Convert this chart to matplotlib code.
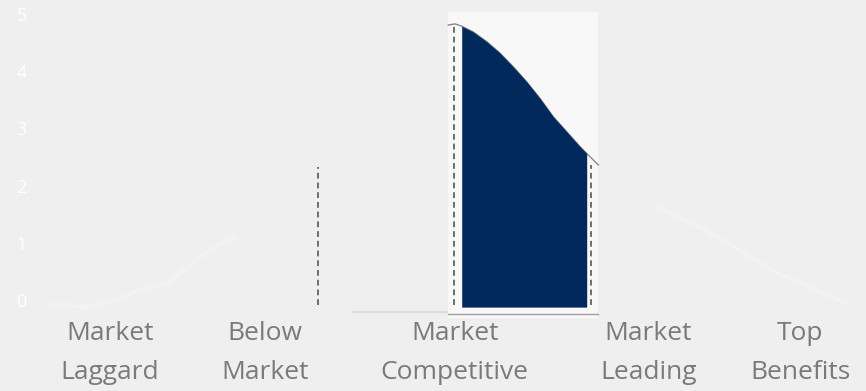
import matplotlib
matplotlib.use("Agg")
import matplotlib.pyplot as plt
import matplotlib.transforms as mtransforms

# ---- data ----
categories = ["Market\nLaggard", "Below\nMarket", "Market\nCompetitive", "Market\nLeading", "Top\nBenefits"]
category_pos = [9.0, 27.7, 50.5, 73.8, 92.1]
y_ticks = [0, 1, 2, 3, 4, 5]

# curve points (position, value)
curve_x = [49.74, 50.54, 51.35, 52.74, 54.36, 55.96, 57.56, 59.17, 60.77, 62.37, 63.98, 65.58, 66.39, 67.79]
curve_y = [4.92, 4.94, 4.90, 4.80, 4.63, 4.43, 4.19, 3.93, 3.64, 3.32, 3.06, 2.80, 2.68, 2.48]

# highlighted band (Market Competitive)
band_start, band_end = 51.35, 66.39

# dashed markers (position, height)
marker_x = [34.1, 50.4, 66.9]
marker_h = [2.44, 4.92, 2.48]

# faint ghost of the rest of the curve (blurred background)
ghost_left_x = [2.0, 6.0, 10.0, 12.5, 16.0, 20.5, 24.0]
ghost_left_y = [0.05, 0.00, 0.12, 0.30, 0.42, 0.95, 1.22]
ghost_right_x = [75.0, 80.0, 84.5, 89.0, 94.0, 97.5]
ghost_right_y = [1.75, 1.40, 1.02, 0.62, 0.30, 0.08]

# ---- figure ----
W, H, DPI = 866, 391, 100
fig = plt.figure(figsize=(W / DPI, H / DPI), dpi=DPI)
fig.patch.set_facecolor("#efefef")

ax = fig.add_axes([35 / W, (391 - 318) / H, 1 - 35 / W, (318 - 0.4) / H])
ax.set_facecolor("none")
ax.set_xlim(0, 100)
ylo, yhi = -0.19, 5.35
ax.set_ylim(ylo, yhi)

# ghost background strokes (very faint)
for gx, gy in ((ghost_left_x, ghost_left_y), (ghost_right_x, ghost_right_y)):
    ax.plot(gx, gy, color="white", lw=6, alpha=0.12, zorder=0, solid_capstyle="round")
    ax.plot(gx, gy, color="white", lw=2.5, alpha=0.22, zorder=0, solid_capstyle="round")

# lighter panel behind highlighted segment
ax.axvspan(curve_x[0], curve_x[-1], ymin=0, ymax=(5.15 - ylo) / (yhi - ylo),
           color="#f8f8f8", zorder=0, lw=0)

# faint baseline left of panel
ax.plot([38.3, 49.6], [-0.087, -0.087], color="#dadada", lw=1.5, zorder=1)
# baseline under panel
ax.plot([curve_x[0], curve_x[-1]], [-0.12, -0.12], color="#a0a0a0", lw=1.0, zorder=2)

# fill under curve
xs = [x for x in curve_x if band_start <= x <= band_end]
ys = [y for x, y in zip(curve_x, curve_y) if band_start <= x <= band_end]
ax.fill_between(xs, 0, ys, color="#01295b", lw=0, zorder=3)
ax.plot(curve_x, curve_y, color="#8a8a8a", lw=1.0, zorder=2)

# dashed markers
for mx, mh in zip(marker_x, marker_h):
    ax.plot([mx, mx], [0.03, mh], color="#6e6e6e", lw=1.4,
            linestyle=(0, (3, 2)), zorder=4)

# axes styling
for s in ax.spines.values():
    s.set_visible(False)
ax.set_yticks(y_ticks)
ax.set_yticklabels([str(t) for t in y_ticks], color="white", fontsize=13,
                   family=["Open Sans", "DejaVu Sans"])
ax.tick_params(axis="y", length=0, pad=6)
offset = mtransforms.ScaledTranslation(0, 5 / 72, fig.dpi_scale_trans)
for lbl in ax.get_yticklabels():
    lbl.set_transform(lbl.get_transform() + offset)

ax.set_xticks(category_pos)
ax.set_xticklabels(categories, color="#7a7a7a", fontsize=19,
                   family=["Open Sans", "DejaVu Sans"], linespacing=1.72)
ax.tick_params(axis="x", length=0, pad=2.5)

fig.savefig("out.png", dpi=DPI, facecolor=fig.get_facecolor())
